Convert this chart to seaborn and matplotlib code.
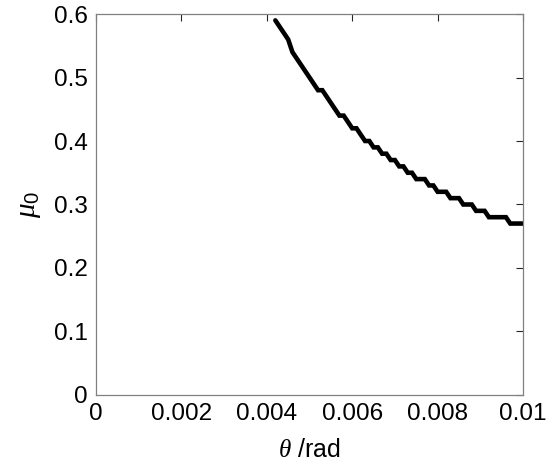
import matplotlib
matplotlib.use("Agg")
import matplotlib.pyplot as plt
import seaborn as sns
import pandas as pd

theta = [0.0042, 0.0043, 0.0044, 0.0045, 0.0046, 0.0047, 0.0048, 0.0049, 0.0050,
         0.0051, 0.0052, 0.0053, 0.0054, 0.0055, 0.0056, 0.0057, 0.0058, 0.0059,
         0.0060, 0.0061, 0.0062, 0.0063, 0.0064, 0.0065, 0.0066, 0.0067, 0.0068,
         0.0069, 0.0070, 0.0071, 0.0072, 0.0073, 0.0074, 0.0075, 0.0076, 0.0077,
         0.0078, 0.0079, 0.0080, 0.0081, 0.0082, 0.0083, 0.0084, 0.0085, 0.0086,
         0.0087, 0.0088, 0.0089, 0.0090, 0.0091, 0.0092, 0.0093, 0.0094, 0.0095,
         0.0096, 0.0097, 0.0098, 0.0099, 0.0100]
mu0 = [0.59, 0.58, 0.57, 0.56, 0.54, 0.53, 0.52, 0.51, 0.50,
       0.49, 0.48, 0.48, 0.47, 0.46, 0.45, 0.44, 0.44, 0.43,
       0.42, 0.42, 0.41, 0.40, 0.40, 0.39, 0.39, 0.38, 0.38,
       0.37, 0.37, 0.36, 0.36, 0.35, 0.35, 0.34, 0.34, 0.34,
       0.33, 0.33, 0.32, 0.32, 0.32, 0.31, 0.31, 0.31, 0.30,
       0.30, 0.30, 0.29, 0.29, 0.29, 0.28, 0.28, 0.28, 0.28,
       0.28, 0.27, 0.27, 0.27, 0.27]

xticks = [0, 0.002, 0.004, 0.006, 0.008, 0.01]
xticklabels = ["0", "0.002", "0.004", "0.006", "0.008", "0.01"]
yticks = [0, 0.1, 0.2, 0.3, 0.4, 0.5, 0.6]
yticklabels = ["0", "0.1", "0.2", "0.3", "0.4", "0.5", "0.6"]

sns.set_theme(style="white")
plt.rcParams['font.family'] = ['Liberation Sans', 'DejaVu Sans']
plt.rcParams['mathtext.fontset'] = 'custom'
plt.rcParams['mathtext.rm'] = 'Liberation Sans'
plt.rcParams['mathtext.it'] = 'Liberation Serif:italic'

df = pd.DataFrame({"theta": theta, "mu0": mu0})

fig = plt.figure(figsize=(5.5, 4.67), dpi=100)
ax = fig.add_axes([0.1745, 0.1542, 0.7765, 0.8158])
sns.lineplot(data=df, x="theta", y="mu0", ax=ax, color="black", linewidth=3.3,
             solid_joinstyle="miter")

ax.set_xlim(0, 0.01)
ax.set_ylim(0, 0.6)
ax.set_xticks(xticks)
ax.set_xticklabels(xticklabels)
ax.set_yticks(yticks)
ax.set_yticklabels(yticklabels)
ax.tick_params(direction="in", length=5, width=0.8, color="#262626",
               labelsize=17.5, top=True, right=True, pad=6, labelcolor="black")
for s in ax.spines.values():
    s.set_color("#808080")
    s.set_linewidth(0.9)
    s.set_visible(True)
ax.set_xlabel(r"$\theta$ /rad", fontsize=18, labelpad=9, color="black")
ax.set_ylabel(r"$\mu_0$", fontsize=21, labelpad=8, color="black")
fig.savefig("out.png", dpi=100)
